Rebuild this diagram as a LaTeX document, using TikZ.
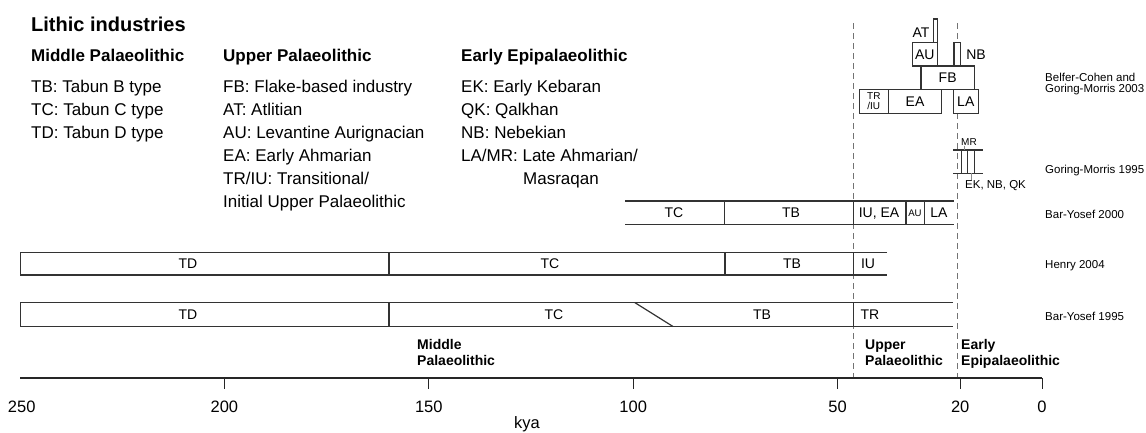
\documentclass[tikz,border=0pt]{standalone}
\usepackage{fontspec}
\setmainfont{Liberation Sans}
\usetikzlibrary{positioning}
\tikzset{
  rowline/.style={line width=1.2pt, black!80},
  phaseline/.style={line width=0.9pt, black!55, dash pattern=on 6pt off 4pt},
  leader/.style={line width=0.5pt, black!45},
  indbox/.style={draw=black!80, line width=1.2pt, fill=white, inner sep=0pt, font=\fontsize{14}{14}\selectfont},
  seglabel/.style={font=\fontsize{14}{14}\selectfont, inner sep=0pt, anchor=base},
  citelabel/.style={font=\fontsize{11.5}{11.5}\selectfont, inner sep=0pt, anchor=base west},
  legendhead/.style={font=\fontsize{17}{17}\selectfont\bfseries, inner sep=0pt, anchor=base west},
  legendtext/.style={font=\fontsize{17}{17}\selectfont, inner sep=0pt, anchor=base west},
  phaselabel/.style={font=\fontsize{14}{14}\selectfont\bfseries, inner sep=0pt, anchor=base west},
  ticklabel/.style={font=\fontsize{16.5}{16.5}\selectfont, inner sep=0pt, anchor=base}
}
\begin{document}
\begin{tikzpicture}[x=1pt, y=-1pt]
  \useasboundingbox (0,0) rectangle (1146,432);

  % legend
  \node[legendhead, font=\fontsize{20}{20}\selectfont\bfseries] (title) at (31,31) {Lithic industries};
  \node[legendhead] (mphead) at (31,61) {Middle Palaeolithic};
  \node[legendhead] (uphead) at (223,61) {Upper Palaeolithic};
  \node[legendhead] (eehead) at (461,61) {Early Epipalaeolithic};
  \node[legendtext] (leg-tb) at (31,92) {TB: Tabun B type};
  \node[legendtext] (leg-tc) at (31,115) {TC: Tabun C type};
  \node[legendtext] (leg-td) at (31,138) {TD: Tabun D type};
  \node[legendtext] (leg-fb) at (223,92) {FB: Flake-based industry};
  \node[legendtext] (leg-at) at (223,115) {AT: Atlitian};
  \node[legendtext] (leg-au) at (223,138) {AU: Levantine Aurignacian};
  \node[legendtext] (leg-ea) at (223,161) {EA: Early Ahmarian};
  \node[legendtext] (leg-tr) at (223,184) {TR/IU: Transitional/};
  \node[legendtext] (leg-tr2) at (223,207) {Initial Upper Palaeolithic};
  \node[legendtext] (leg-ek) at (461,92) {EK: Early Kebaran};
  \node[legendtext] (leg-qk) at (461,115) {QK: Qalkhan};
  \node[legendtext] (leg-nb) at (461,138) {NB: Nebekian};
  \node[legendtext] (leg-la) at (461,161) {LA/MR: Late Ahmarian/};
  \node[legendtext] (leg-la2) at (523,184) {Masraqan};

  % period boundaries
  \draw[phaseline] (853.3,23) -- (853.3,378);
  \draw[phaseline] (957,23) -- (957,378);

  % Belfer-Cohen and Goring-Morris 2003
  \node[indbox, minimum width=4pt, minimum height=23.7pt] (at) at (935.3,30.85) {};
  \node[seglabel] (atlabel) at (921,37) {AT};
  \node[indbox, minimum width=25pt, minimum height=23.3pt] (au) at (924.8,54.35) {AU};
  \node[indbox, minimum width=6.7pt, minimum height=23.3pt] (nb) at (957.35,54.35) {};
  \node[seglabel] (nblabel) at (976,59.4) {NB};
  \node[indbox, minimum width=53.3pt, minimum height=23.3pt] (fb) at (947.65,77.65) {FB};
  \node[indbox, minimum width=29pt, minimum height=24pt, align=center,
        font=\fontsize{10}{10.5}\selectfont] (tr) at (873.8,101.3) {TR\\/IU};
  \node[indbox, minimum width=53.4pt, minimum height=24pt] (ea) at (915,101.3) {EA};
  \node[indbox, minimum width=25pt, minimum height=24pt] (la) at (965.8,101.3) {LA};
  \node[citelabel] (bc1) at (1045,81) {Belfer-Cohen and};
  \node[citelabel] (bc2) at (1045,92) {Goring-Morris 2003};

  % Goring-Morris 1995
  \draw[rowline] (953.3,150) -- (982.7,150) (953.3,173.3) -- (982.7,173.3);
  \foreach \x in {961.7, 967.7, 974}
    \draw[rowline, line width=0.9pt] (\x,150) -- (\x,173.3);
  \node[seglabel, font=\fontsize{10}{10}\selectfont] (mr) at (969,145.6) {MR};
  \node[citelabel] (ekqk) at (965,188.3) {EK, NB, QK};
  \coordinate (gmtop) at (964.5,150);
  \coordinate (gmbot) at (971,173.3);
  \draw[leader] (mr.south -| gmtop) -- (gmtop);
  \draw[leader] (gmbot) -- (gmbot |- ekqk.north);
  \node[citelabel] (gm95) at (1045,173.4) {Goring-Morris 1995};

  % Bar-Yosef 2000
  \draw[rowline] (625,201) -- (954,201) (625,224.5) -- (954,224.5);
  \foreach \x in {724.3, 853.3, 906, 924.3}
    \draw[rowline] (\x,201) -- (\x,224.5);
  \node[seglabel] (by0-tc) at (674,217.8) {TC};
  \node[seglabel] (by0-tb) at (791,217.8) {TB};
  \node[seglabel] (by0-iu) at (879,217.8) {IU, EA};
  \node[seglabel, font=\fontsize{9.6}{9.6}\selectfont] (by0-au) at (915,216.3) {AU};
  \node[seglabel] (by0-la) at (939,217.8) {LA};
  \node[citelabel] (by00) at (1045,218.5) {Bar-Yosef 2000};

  % Henry 2004
  \draw[rowline] (887,252.3) -- (20.7,252.3) -- (20.7,275) -- (887,275);
  \foreach \x in {389, 725, 853.3}
    \draw[rowline] (\x,252.3) -- (\x,275);
  \node[seglabel] (h-td) at (188,268.7) {TD};
  \node[seglabel] (h-tc) at (550,268.7) {TC};
  \node[seglabel] (h-tb) at (792,268.7) {TB};
  \node[seglabel] (h-iu) at (868,268.7) {IU};
  \node[citelabel] (henry) at (1045,268.5) {Henry 2004};

  % Bar-Yosef 1995
  \draw[rowline] (953,302.7) -- (20.7,302.7) -- (20.7,326.5) -- (953,326.5);
  \draw[rowline] (389,302.7) -- (389,326.5);
  \draw[rowline] (635,302.7) -- (673,326.5);
  \draw[rowline] (853.3,302.7) -- (853.3,326.5);
  \node[seglabel] (b5-td) at (188,319.6) {TD};
  \node[seglabel] (b5-tc) at (554,319.6) {TC};
  \node[seglabel] (b5-tb) at (762,319.6) {TB};
  \node[seglabel] (b5-tr) at (870,319.6) {TR};
  \node[citelabel] (by95) at (1045,320) {Bar-Yosef 1995};

  % periods
  \node[phaselabel] (mp1) at (417,349) {Middle};
  \node[phaselabel] (mp2) at (417,365) {Palaeolithic};
  \node[phaselabel] (up1) at (865,349) {Upper};
  \node[phaselabel] (up2) at (865,365) {Palaeolithic};
  \node[phaselabel] (ee1) at (961,349) {Early};
  \node[phaselabel] (ee2) at (961,365) {Epipalaeolithic};

  % time axis
  \draw[line width=1.3pt, black!85] (20,378) -- (1042,378);
  \foreach \k in {200,150,100,50,20,0} {
    \draw[line width=1pt, black!85] ({1042-4.088*\k},378) -- ++(0,11);
    \node[ticklabel] (tick\k) at ({1042-4.088*\k},412) {\k};
  }
  \node[ticklabel] (tick250) at (21.7,412) {250};
  \node[ticklabel] (kya) at (527,428.5) {kya};
\end{tikzpicture}
\end{document}
